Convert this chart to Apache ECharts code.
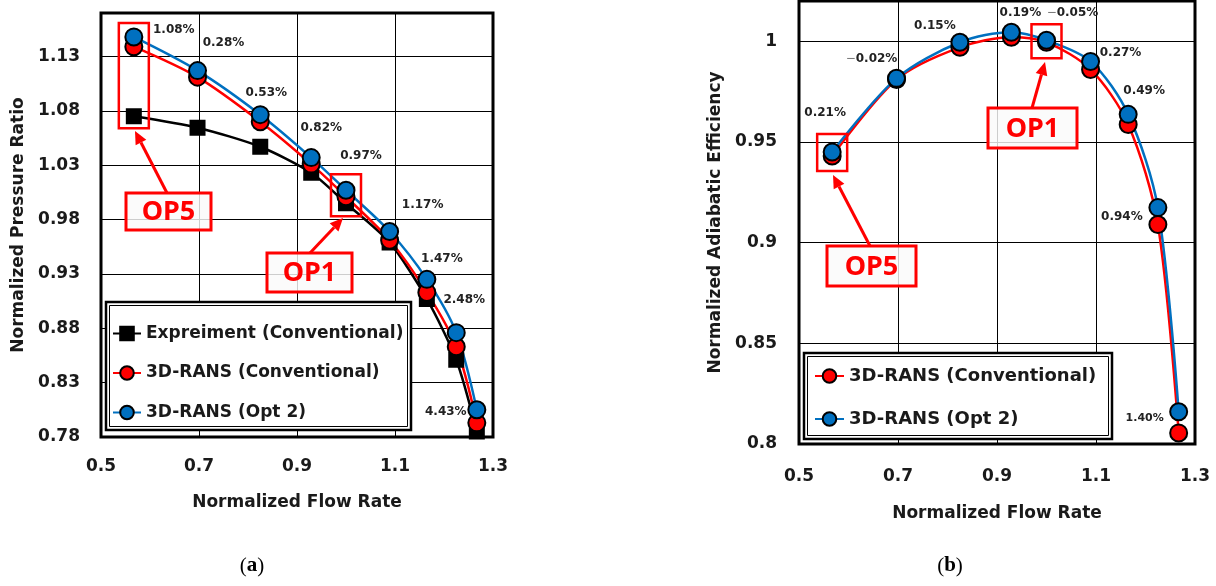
<!DOCTYPE html>
<html><head><meta charset="utf-8">
<script src="https://cdn.jsdelivr.net/npm/echarts@6/dist/echarts.min.js"></script>
<style>html,body{margin:0;padding:0;background:#fff}#c{width:1216px;height:586px}</style>
</head><body><div id="c"></div>
<script>
// ---------- data ----------
const flowRate      = [0.567, 0.697, 0.825, 0.929, 1.000, 1.089, 1.165, 1.225, 1.267];
const prExperiment  = [1.075, 1.0645, 1.047, 1.023, 0.995, 0.959, 0.907, 0.851, 0.785];
const prRansConv    = [1.139, 1.111, 1.070, 1.031, 1.001, 0.961, 0.913, 0.863, 0.793];
const prRansOpt2    = [1.148, 1.117, 1.0765, 1.037, 1.007, 0.969, 0.925, 0.876, 0.805];
const effRansConv   = [0.943, 0.981, 0.997, 1.002, 0.9995, 0.986, 0.9587, 0.909, 0.8055];
const effRansOpt2   = [0.945, 0.9816, 0.9995, 1.0045, 1.0005, 0.990, 0.9637, 0.9174, 0.816];
const prGainLabels  = ['1.08%', '0.28%', '0.53%', '0.82%', '0.97%', '1.17%', '1.47%', '2.48%', '4.43%'];
const effGainLabels = ['0.21%', '\u22120.02%', '0.15%', '0.19%', '\u22120.05%', '0.27%', '0.49%', '0.94%', '1.40%'];
const seriesNames   = ['Expreiment (Conventional)', '3D-RANS (Conventional)', '3D-RANS (Opt 2)'];
const xAxisName     = 'Normalized Flow Rate';
const prAxisName    = 'Normalized Pressure Ratio';
const effAxisName   = 'Normalized Adiabatic Efficiency';
const opLabels      = ['OP5', 'OP1'];
const opIndex       = [0, 4];
const panelLabels   = ['a', 'b'];

// ---------- layout / style ----------
const FONT = '"DejaVu Sans", sans-serif';
const OPFONT = '"Noto Sans", sans-serif';
const TXT = '#1a1a1a';
const RED = '#ff0000', BLUE = '#0070c0';
const pairs = ys => flowRate.map((x, i) => [x, ys[i]]);

const chart = echarts.init(document.getElementById('c'));

function xAxisCfg(gridIndex, margin, nameGap) {
  return {
    type: 'value', gridIndex, min: 0.5, max: 1.3, interval: 0.2,
    axisLine: { show: false }, axisTick: { show: false },
    splitLine: { show: true, lineStyle: { color: '#000', width: 1 } },
    axisLabel: { fontFamily: FONT, fontSize: 17, fontWeight: 'bold', color: TXT, margin },
    name: xAxisName, nameLocation: 'middle', nameGap,
    nameTextStyle: { fontFamily: FONT, fontSize: 17, fontWeight: 'bold', color: TXT }
  };
}
function yAxisCfg(gridIndex, min, max, name, margin, nameGap, fmt) {
  return {
    type: 'value', gridIndex, min, max, interval: 0.05,
    axisLine: { show: false }, axisTick: { show: false },
    splitLine: { show: true, lineStyle: { color: '#000', width: 1 } },
    axisLabel: { fontFamily: FONT, fontSize: 17, fontWeight: 'bold', color: TXT, margin,
                 showMaxLabel: false, formatter: fmt },
    name, nameLocation: 'middle', nameGap, nameRotate: 90,
    nameTextStyle: { fontFamily: FONT, fontSize: 17, fontWeight: 'bold', color: TXT }
  };
}
function lineSeries(name, data, color, symbol, size, xi, yi, smooth) {
  return {
    type: 'line', name, data, xAxisIndex: xi, yAxisIndex: yi,
    symbol, symbolSize: size, smooth,
    lineStyle: { color, width: 2.5 },
    itemStyle: { color, borderColor: '#000', borderWidth: 2 },
    emphasis: { disabled: true }, animation: false
  };
}

chart.setOption({
  backgroundColor: '#fff',
  animation: false,
  grid: [
    { left: 101, right: 723, top: 13, bottom: 149, show: true, borderColor: '#000', borderWidth: 3, backgroundColor: 'transparent' },
    { left: 799, right: 21, top: 1, bottom: 142, show: true, borderColor: '#000', borderWidth: 3, backgroundColor: 'transparent' }
  ],
  xAxis: [ xAxisCfg(0, 21, 57), xAxisCfg(1, 24, 61) ],
  yAxis: [
    yAxisCfg(0, 0.78, 1.17, prAxisName, 21, 74, v => v.toFixed(2)),
    yAxisCfg(1, 0.8, 1.02, effAxisName, 22, 75, v => String(+v.toFixed(2)))
  ],
  legend: [
    { orient: 'vertical', left: 112, top: 325, padding: 0, itemGap: 22.5, itemWidth: 28, itemHeight: 17,
      data: seriesNames, selectedMode: false, z: 6,
      textStyle: { fontFamily: FONT, fontSize: 17, fontWeight: 'bold', color: TXT } },
    { orient: 'vertical', left: 814, top: 367, padding: 0, itemGap: 25, itemWidth: 29, itemHeight: 17,
      data: seriesNames.slice(1), selectedMode: false, z: 6,
      textStyle: { fontFamily: FONT, fontSize: 18, fontWeight: 'bold', color: TXT } }
  ],
  series: [
    lineSeries(seriesNames[0], pairs(prExperiment), '#000', 'rect', 14, 0, 0, 0.25),
    lineSeries(seriesNames[1], pairs(prRansConv), RED, 'circle', 17, 0, 0, 0.3),
    lineSeries(seriesNames[2], pairs(prRansOpt2), BLUE, 'circle', 17, 0, 0, 0.3),
    lineSeries(seriesNames[1], pairs(effRansConv), RED, 'circle', 17, 1, 1, 0.3),
    lineSeries(seriesNames[2], pairs(effRansOpt2), BLUE, 'circle', 17, 1, 1, 0.3)
  ]
});

// ---------- annotations ----------
const px = (g, x, y) => chart.convertToPixel({ gridIndex: g }, [x, y]);
const g = [];

// legend frames (double border)
function legendFrame(x1, y1, x2, y2) {
  g.push({ type: 'rect', z: 5, shape: { x: x1, y: y1, width: x2 - x1, height: y2 - y1 },
           style: { fill: '#fff', stroke: '#000', lineWidth: 2.5 } });
  g.push({ type: 'rect', z: 5, shape: { x: x1 + 3.5, y: y1 + 3.5, width: x2 - x1 - 7, height: y2 - y1 - 7 },
           style: { fill: 'none', stroke: '#000', lineWidth: 1 } });
}
legendFrame(106, 302, 411, 430);
legendFrame(804, 353, 1112, 439);

// percentage labels anchored to the Opt 2 points
const prOff  = [[40,-7],[26,-28],[6,-22],[10,-30],[15,-34],[33,-27],[15,-20],[8,-33],[-31,2]];
const effOff = [[-7,-39],[-25,-19],[-25,-16],[9,-19],[26,-27],[30,-9],[16,-23],[-36,9],[-34,6]];
prGainLabels.forEach((t, i) => {
  const p = px(0, flowRate[i], prRansOpt2[i]);
  g.push({ type: 'text', z: 7, x: p[0] + prOff[i][0], y: p[1] + prOff[i][1],
    style: { text: t, align: 'center', verticalAlign: 'middle', fill: '#222',
             font: 'bold 12px ' + FONT } });
});
effGainLabels.forEach((t, i) => {
  const p = px(1, flowRate[i], effRansOpt2[i]);
  const neg = t.charAt(0) === '\u2212';
  const fs = i === 8 ? 11 : 12;
  g.push({ type: 'text', z: 7, x: p[0] + effOff[i][0], y: p[1] + effOff[i][1],
    style: { text: neg ? '{m|\u2212}{n|' + t.slice(1) + '}' : '{n|' + t + '}',
             align: 'center', verticalAlign: 'middle',
             rich: { m: { fill: '#777', font: fs + 'px ' + FONT },
                     n: { fill: '#222', font: '600 ' + fs + 'px ' + FONT } } } });
});

// operating point highlight boxes
function hiBox(gi, i, vals, padT, padB) {
  const hi = Math.max(...vals.map(v => v[i])), lo = Math.min(...vals.map(v => v[i]));
  const a = px(gi, flowRate[i], hi), b = px(gi, flowRate[i], lo);
  g.push({ type: 'rect', z: 8, shape: { x: a[0] - 15, y: a[1] - padT, width: 30, height: b[1] - a[1] + padT + padB },
           style: { fill: 'none', stroke: RED, lineWidth: 2.5 } });
}
hiBox(0, opIndex[0], [prExperiment, prRansConv, prRansOpt2], 14, 12);
hiBox(0, opIndex[1], [prExperiment, prRansConv, prRansOpt2], 16, 13);
hiBox(1, opIndex[0], [effRansConv, effRansOpt2], 18, 15);
hiBox(1, opIndex[1], [effRansConv, effRansOpt2], 16, 16);

function arrow(x1, y1, x2, y2) {
  const dx = x2 - x1, dy = y2 - y1, L = Math.hypot(dx, dy), ux = dx / L, uy = dy / L;
  const hl = 13, hw = 6, bx = x2 - ux * hl, by = y2 - uy * hl;
  g.push({ type: 'line', z: 8, shape: { x1, y1, x2: bx, y2: by }, style: { stroke: RED, lineWidth: 3 } });
  g.push({ type: 'polygon', z: 8, shape: { points: [[x2, y2], [bx - uy * hw, by + ux * hw], [bx + uy * hw, by - ux * hw]] },
           style: { fill: RED } });
}
function opLabel(x, y, w, h, text) {
  g.push({ type: 'rect', z: 8, shape: { x, y, width: w, height: h },
           style: { fill: 'rgba(250,250,250,0.82)', stroke: RED, lineWidth: 3 } });
  g.push({ type: 'text', z: 9, x: x + w / 2, y: y + h / 2 + 1,
           style: { text, align: 'center', verticalAlign: 'middle', fill: RED, font: 'bold 27px ' + OPFONT } });
}
opLabel(126, 193, 85, 37, opLabels[0]); arrow(167, 193, 135, 131);
opLabel(267, 253, 85, 39, opLabels[1]); arrow(310, 253, 343, 218);
opLabel(827, 246, 89, 40, opLabels[0]); arrow(870, 246, 833, 175);
opLabel(988, 108, 89, 40, opLabels[1]); arrow(1032, 108, 1045, 62);

// panel captions
[[252, 566], [950, 566]].forEach((p, i) => {
  g.push({ type: 'text', x: p[0], y: p[1],
    style: { text: '{p|(}{b|' + panelLabels[i] + '}{p|)}', align: 'center', verticalAlign: 'middle',
             rich: { p: { fill: '#000', font: '21px "Liberation Serif", serif' },
                     b: { fill: '#000', font: 'bold 21px "Liberation Serif", serif' } } } });
});

chart.setOption({ graphic: g });
</script></body></html>
